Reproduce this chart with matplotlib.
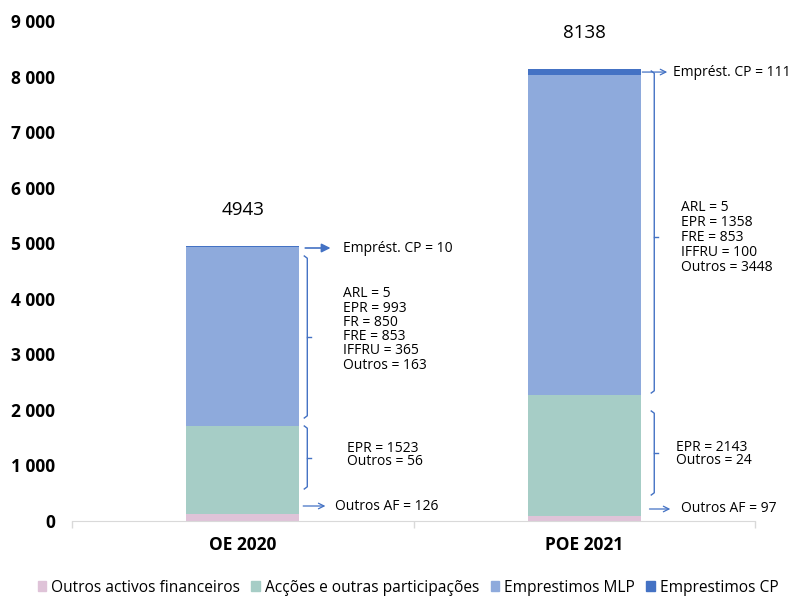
import matplotlib
matplotlib.use("Agg")
import matplotlib.pyplot as plt
import numpy as np
from matplotlib.patches import Patch
from matplotlib.ticker import FuncFormatter, FixedLocator

plt.rcParams['font.family'] = ['Open Sans', 'DejaVu Sans']

categories = ["OE 2020", "POE 2021"]
series_names = ["Outros activos financeiros", "Acções e outras participações",
                "Emprestimos MLP", "Emprestimos CP"]
outros_af = [126, 97]
accoes = [1579, 2167]
emprest_mlp = [3229, 5764]
emprest_cp = [10, 111]
totals = [4943, 8138]
colors = ["#dfc3d8", "#a6cdc6", "#8eaadc", "#4472c4"]

yticks = [0, 1000, 2000, 3000, 4000, 5000, 6000, 7000, 8000, 9000]

cp_labels = ["Emprést. CP = 10", "Emprést. CP = 111"]
mlp_labels = ["ARL = 5\nEPR = 993\nFR = 850\nFRE = 853\nIFFRU = 365\nOutros = 163",
              "ARL = 5\nEPR = 1358\nFRE = 853\nIFFRU = 100\nOutros = 3448"]
acc_labels = ["EPR = 1523\nOutros = 56", "EPR = 2143\nOutros = 24"]
af_labels = ["Outros AF = 126", "Outros AF = 97"]

fig = plt.figure(figsize=(7.95, 5.96), dpi=100)
ax = fig.add_axes([72/795, 1-521/596, (755-72)/795, 500/596])

x = np.arange(len(categories))
w = 0.33
bottom = np.zeros(len(categories))
for vals, c in zip([outros_af, accoes, emprest_mlp, emprest_cp], colors):
    ax.bar(x, vals, w, bottom=bottom, color=c, zorder=2, linewidth=0)
    bottom += np.array(vals)

ax.set_xlim(-0.5, 1.5)
ax.set_ylim(0, 9000)
ax.set_yticks(yticks)
ax.yaxis.set_major_formatter(FuncFormatter(lambda v, p: f"{int(v):,}".replace(",", " ")))
ax.tick_params(axis='y', length=0, pad=12, labelsize=12.5)
for lab in ax.get_yticklabels():
    lab.set_fontweight('bold')
ax.set_xticks(x)
ax.set_xticklabels(categories, fontsize=12.5, fontweight='bold')
ax.tick_params(axis='x', which='major', length=0, pad=11)
ax.xaxis.set_minor_locator(FixedLocator([-0.5, 0.5, 1.5]))
ax.tick_params(axis='x', which='minor', length=5, color='#d9d9d9', width=1)
for s in ['top', 'right', 'left']:
    ax.spines[s].set_visible(False)
ax.spines['bottom'].set_color('#d9d9d9')

# totals
for i, t in enumerate(totals):
    ax.annotate(str(t), (x[i], bottom[i]), xytext=(0, 26), textcoords='offset points',
                ha='center', va='center', fontsize=13.5)

acol = '#4472c4'
tfs = 10

def bracket(xr, y0, y1, ymid):
    dx = 3 / 341.0
    ax.plot([xr - dx, xr, xr, xr - dx], [y1, y1 - 40, y0 + 40, y0], color=acol, lw=1, zorder=3)
    ax.plot([xr, xr + dx * 1.3], [ymid, ymid], color=acol, lw=1, zorder=3)

cp_arrow = [(0.183, 0.257, 4914, '-|>'), (0.170, 0.243, 8081, '->')]
cp_text_x = [0.295, 0.261]
mlp_br = [(0.189, 1854, 4770, 3312), (0.205, 2304, 8100, 5112)]
mlp_text = [(0.295, 3447, 0.93), (0.284, 5103, 1.0)]
acc_br = [(0.189, 576, 1710, 1134), (0.205, 468, 1980, 1224)]
acc_text = [(0.304, 1188), (0.270, 1206)]
af_arrow = [(0.177, 0.242, 270), (0.191, 0.252, 216)]
af_text_x = [0.271, 0.284]

for i in range(2):
    x0, x1, yy, st = cp_arrow[i]
    ms = 13 if st == '-|>' else 10
    ax.annotate('', xy=(i + x1, yy), xytext=(i + x0, yy),
                arrowprops=dict(arrowstyle=st, color=acol, lw=1.2 if st == '-|>' else 0.9,
                                mutation_scale=ms, shrinkA=0, shrinkB=0))
    ax.text(i + cp_text_x[i], yy, cp_labels[i], ha='left', va='center', fontsize=tfs)

    xr, y0, y1, ym = mlp_br[i]
    bracket(i + xr, y0, y1, ym)
    tx, ty, ls = mlp_text[i]
    ax.text(i + tx, ty, mlp_labels[i], ha='left', va='center', fontsize=tfs, linespacing=ls)

    xr, y0, y1, ym = acc_br[i]
    bracket(i + xr, y0, y1, ym)
    tx, ty = acc_text[i]
    ax.text(i + tx, ty, acc_labels[i], ha='left', va='center', fontsize=tfs, linespacing=0.9)

    x0, x1, yy = af_arrow[i]
    ax.annotate('', xy=(i + x1, yy), xytext=(i + x0, yy),
                arrowprops=dict(arrowstyle='->', color=acol, lw=0.9, mutation_scale=10,
                                shrinkA=0, shrinkB=0))
    ax.text(i + af_text_x[i], yy, af_labels[i], ha='left', va='center', fontsize=tfs)

handles = [Patch(color=c) for c in colors]
fig.legend(handles, series_names, loc='center', bbox_to_anchor=(0.513, 0.014), ncol=4,
           frameon=False, fontsize=11.2, handlelength=0.55, handleheight=0.55,
           handletextpad=0.3, columnspacing=0.75)

fig.savefig("out.png", dpi=100)
